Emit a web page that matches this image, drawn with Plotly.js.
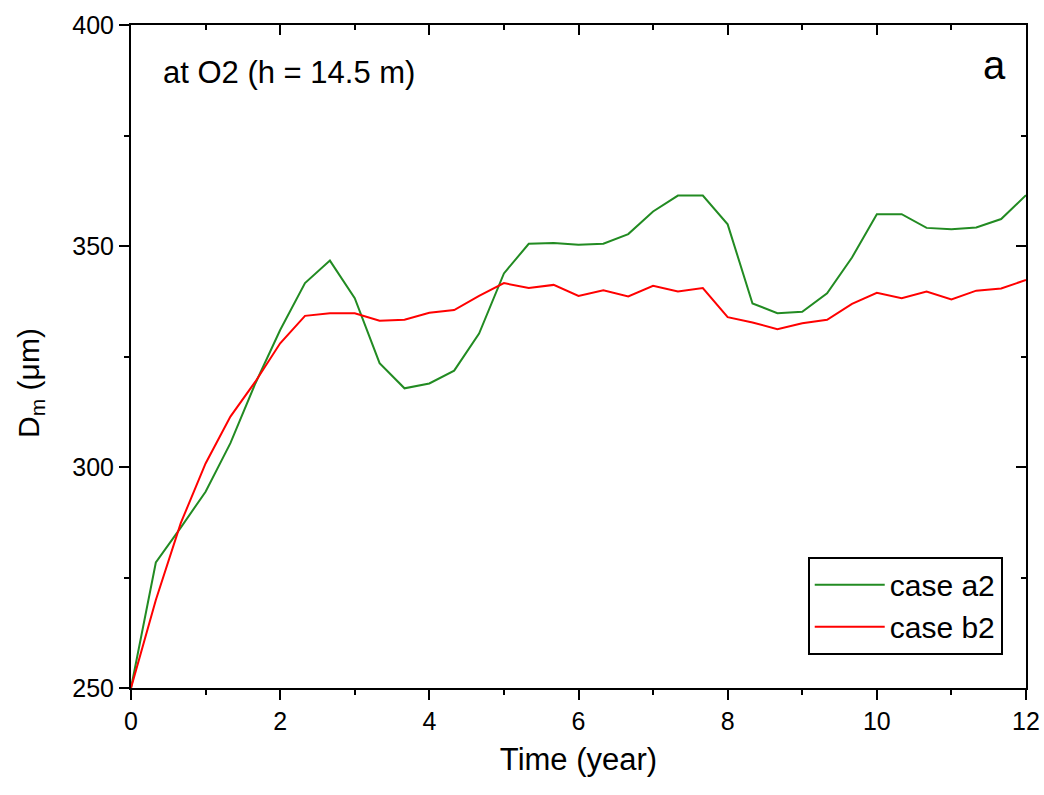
<!DOCTYPE html>
<html>
<head>
<meta charset="utf-8">
<script src="https://cdn.plot.ly/plotly-3.0.1.min.js"></script>
<style>html,body{margin:0;padding:0;background:#fff;}#chart{width:1044px;height:795px;}</style>
</head>
<body>
<div id="chart"></div>
<script>
// Time in years (every 1/3 year)
const timeYears = [0, 0.333, 0.667, 1, 1.333, 1.667, 2, 2.333, 2.667, 3, 3.333, 3.667, 4, 4.333, 4.667, 5, 5.333, 5.667, 6, 6.333, 6.667, 7, 7.333, 7.667, 8, 8.333, 8.667, 9, 9.333, 9.667, 10, 10.333, 10.667, 11, 11.333, 11.667, 12];
const caseA2 = [250, 278.4, 286.3, 294.4, 305.4, 318.9, 331.0, 341.6, 346.7, 338.2, 323.5, 317.8, 318.9, 321.8, 330.2, 343.8, 350.5, 350.7, 350.3, 350.5, 352.7, 357.8, 361.4, 361.4, 354.9, 337.0, 334.8, 335.1, 339.3, 347.4, 357.2, 357.2, 354.1, 353.8, 354.2, 356.1, 361.5];
const caseB2 = [250, 269.9, 287.3, 300.8, 311.4, 319.3, 328.0, 334.2, 334.8, 334.8, 333.1, 333.3, 334.9, 335.5, 338.7, 341.6, 340.5, 341.2, 338.7, 340.0, 338.6, 341.0, 339.7, 340.5, 333.9, 332.7, 331.2, 332.5, 333.3, 336.9, 339.4, 338.2, 339.7, 337.9, 339.9, 340.4, 342.3];
const seriesNames = ["case a2", "case b2"];
const xTickVals = [0, 2, 4, 6, 8, 10, 12];
const yTickVals = [250, 300, 350, 400];
const xTitle = "Time (year)";
const yTitle = "D<sub>m</sub> (μm)";

const fontFam = "Liberation Sans, Arial, sans-serif";
const traces = [
  {x: timeYears, y: caseA2, name: seriesNames[0], mode: "lines", line: {color: "#228b22", width: 2}},
  {x: timeYears, y: caseB2, name: seriesNames[1], mode: "lines", line: {color: "#ff0000", width: 2}},
  {x: [null], y: [null], xaxis: "x2", yaxis: "y2", showlegend: false, hoverinfo: "skip"}
];

const common = {showline: true, linecolor: "#000", linewidth: 2, zeroline: false, showgrid: false,
  tickcolor: "#000", tickwidth: 2, ticklen: 10};

const layout = {
  width: 1044, height: 795,
  margin: {l: 131, r: 18, t: 25, b: 107},
  paper_bgcolor: "#fff", plot_bgcolor: "#fff",
  font: {family: fontFam, color: "#000", size: 25},
  showlegend: true,
  legend: {x: 0.974, y: 0.198, xanchor: "right", yanchor: "top", bordercolor: "#000", borderwidth: 2,
    bgcolor: "#fff", font: {size: 30, family: fontFam}, tracegroupgap: 0, itemwidth: 70},
  xaxis: Object.assign({}, common, {range: [0, 12], tickmode: "array", tickvals: xTickVals, ticks: "outside",
    tickfont: {size: 25, family: fontFam, color: "#000"}, title: {text: xTitle, font: {size: 31, family: fontFam}, standoff: 14},
    minor: {dtick: 1, tick0: 0, ticks: "outside", ticklen: 5, tickcolor: "#000", tickwidth: 2}}),
  yaxis: Object.assign({}, common, {range: [250, 400], tickmode: "array", tickvals: yTickVals, ticks: "outside",
    tickfont: {size: 25, family: fontFam, color: "#000"},
    minor: {dtick: 25, tick0: 250, ticks: "outside", ticklen: 5, tickcolor: "#000", tickwidth: 2}}),
  xaxis2: Object.assign({}, common, {overlaying: "x", side: "top", anchor: "y2", range: [0, 12], tickvals: xTickVals,
    ticks: "inside", showticklabels: false,
    minor: {dtick: 1, tick0: 0, ticks: "inside", ticklen: 5, tickcolor: "#000", tickwidth: 2}}),
  yaxis2: Object.assign({}, common, {overlaying: "y", side: "right", anchor: "x2", range: [250, 400], tickvals: yTickVals,
    ticks: "inside", showticklabels: false,
    minor: {dtick: 25, tick0: 250, ticks: "inside", ticklen: 5, tickcolor: "#000", tickwidth: 2}}),
  annotations: [
    {text: yTitle, xref: "paper", yref: "paper", x: -0.113, y: 0.46, xanchor: "center", yanchor: "middle",
      textangle: -90, showarrow: false, font: {size: 30, family: fontFam}},
    {text: "at O2 (h = 14.5 m)", xref: "paper", yref: "paper", x: 0.033, y: 0.928, xanchor: "left", yanchor: "middle",
      showarrow: false, font: {size: 31, family: fontFam}},
    {text: "a", xref: "paper", yref: "paper", x: 0.98, y: 0.94, xanchor: "right", yanchor: "middle",
      showarrow: false, font: {size: 40, family: fontFam}}
  ]
};

Plotly.newPlot("chart", traces, layout, {displayModeBar: false, staticPlot: true});
</script>
</body>
</html>
